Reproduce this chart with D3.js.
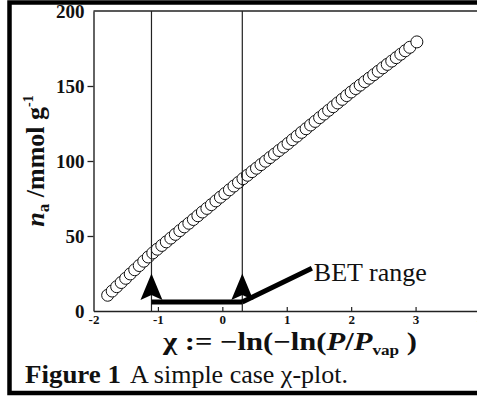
<!DOCTYPE html>
<html>
<head>
<meta charset="utf-8">
<script src="https://cdn.jsdelivr.net/npm/d3@7"></script>
<style>
  html, body { margin: 0; padding: 0; background: #fff; }
  svg { display: block; }
</style>
</head>
<body>
<svg id="chart" width="477" height="396"></svg>
<script>
// chi values and adsorbed amounts (mmol/g)
const chi = [-1.78, -1.71, -1.64, -1.57, -1.50, -1.43, -1.36, -1.29, -1.22, -1.15,
  -1.08, -1.01, -0.94, -0.87, -0.80, -0.73, -0.66, -0.59, -0.52, -0.45,
  -0.38, -0.31, -0.24, -0.17, -0.10, -0.03, 0.04, 0.11, 0.18, 0.25,
  0.32, 0.39, 0.46, 0.53, 0.60, 0.67, 0.74, 0.81, 0.88, 0.95,
  1.02, 1.09, 1.16, 1.23, 1.30, 1.37, 1.44, 1.51, 1.58, 1.65,
  1.72, 1.79, 1.86, 1.93, 2.00, 2.07, 2.14, 2.21, 2.28, 2.35,
  2.42, 2.49, 2.56, 2.63, 2.70, 2.77, 2.84, 2.91, 3.02];
const amount = [10.5, 13.3, 16.2, 19.0, 21.8, 24.7, 27.5, 30.3, 33.2, 36.0,
  38.7, 41.2, 43.7, 46.1, 48.6, 51.1, 53.6, 56.1, 58.5, 61.0,
  63.5, 66.0, 68.4, 70.9, 73.4, 75.9, 78.3, 80.8, 83.3, 85.7,
  88.2, 90.5, 92.9, 95.2, 97.6, 99.9, 102.3, 104.6, 107.0, 109.3,
  111.7, 114.2, 116.6, 119.1, 121.5, 124.0, 126.4, 128.9, 131.3, 133.8,
  136.2, 138.7, 141.1, 143.6, 146.0, 148.3, 150.6, 152.9, 155.2, 157.5,
  159.8, 162.1, 164.4, 166.6, 168.9, 171.2, 173.5, 175.8, 179.4];

const xTicks = [-2, -1, 0, 1, 2, 3, 4];
const yTicks = [0, 50, 100, 150, 200];

// BET range limits (chi) and annotation anchor values
const betRange = [-1.1, 0.31];
const arrowBase = 6;      // height of the horizontal bar
const arrowTip = 25;      // height of the arrow tips
const labelPoint = [1.39, 28.5];
const labelText = "BET range";

const SERIF = "'Liberation Serif', Tinos, 'Times New Roman', Times, 'DejaVu Serif', serif";

const svg = d3.select("#chart");

const x = d3.scaleLinear().domain([-2, 4]).range([93.5, 480]);
const y = d3.scaleLinear().domain([0, 200]).range([311, 11]);

// outer figure frame
svg.append("rect")
  .attr("x", 9.5).attr("y", 2.5)
  .attr("width", 490).attr("height", 390.5)
  .attr("fill", "none").attr("stroke", "#000").attr("stroke-width", 4.5);

// top frame line of plot
svg.append("line")
  .attr("x1", x(-2)).attr("x2", x(4))
  .attr("y1", y(200)).attr("y2", y(200))
  .attr("stroke", "#222").attr("stroke-width", 1.4);

// y axis
const yAxis = svg.append("g")
  .attr("transform", `translate(${x(-2)},0)`)
  .call(d3.axisLeft(y).tickValues(yTicks).tickSize(6).tickSizeOuter(0).tickPadding(3));
yAxis.attr("font-family", SERIF);
yAxis.select(".domain").attr("stroke", "#222").attr("stroke-width", 1.4);
yAxis.selectAll(".tick line").attr("stroke", "#222").attr("stroke-width", 1.3)
  .attr("display", d => (d === 0 || d === 200) ? "none" : null);
yAxis.selectAll(".tick text")
  .style("font-family", SERIF)
  .attr("font-size", 19).attr("font-weight", "bold").attr("fill", "#111")
  .attr("dy", "0.36em");

// x axis
const xAxis = svg.append("g")
  .attr("transform", `translate(0,${y(0)})`)
  .call(d3.axisBottom(x).tickValues(xTicks).tickSize(-4).tickSizeOuter(0).tickPadding(4)
    .tickFormat(d3.format("d")));
xAxis.attr("font-family", SERIF);
xAxis.select(".domain").attr("stroke", "#222").attr("stroke-width", 1.4);
xAxis.selectAll(".tick line").attr("stroke", "#222").attr("stroke-width", 1.2)
  .attr("display", d => d === -2 ? "none" : null);
xAxis.selectAll(".tick text")
  .style("font-family", SERIF)
  .attr("font-size", 13).attr("font-weight", "bold").attr("fill", "#111")
  .text(d => d < 0 ? "-" + Math.abs(d) : d);

// data points
svg.append("g").selectAll("circle")
  .data(chi.map((c, i) => [c, amount[i]]))
  .join("circle")
  .attr("cx", d => x(d[0])).attr("cy", d => y(d[1]))
  .attr("r", 6)
  .attr("fill", "#fff").attr("stroke", "#111").attr("stroke-width", 1);

// BET range boundaries
svg.append("g").selectAll("line")
  .data(betRange)
  .join("line")
  .attr("x1", d => x(d)).attr("x2", d => x(d))
  .attr("y1", y(0)).attr("y2", y(200))
  .attr("stroke", "#222").attr("stroke-width", 1.2);

// BET range annotation: bar with two upward arrows and a pointer to the label
const ann = svg.append("g");
ann.append("line")
  .attr("x1", x(betRange[0])).attr("x2", x(betRange[1]))
  .attr("y1", y(arrowBase)).attr("y2", y(arrowBase))
  .attr("stroke", "#000").attr("stroke-width", 5);
ann.append("line")
  .attr("x1", x(betRange[1])).attr("y1", y(arrowBase))
  .attr("x2", x(labelPoint[0])).attr("y2", y(labelPoint[1]))
  .attr("stroke", "#000").attr("stroke-width", 5);
const headH = y(arrowBase) - y(arrowTip);
ann.selectAll("path")
  .data(betRange)
  .join("path")
  .attr("transform", d => `translate(${x(d)},${y(arrowBase)})`)
  .attr("d", `M0,${-headH} L11,-2 L0,-7 L-11,-2 Z`)
  .attr("fill", "#000");
ann.append("text")
  .attr("x", x(labelPoint[0]) + 2).attr("y", 281)
  .style("font-family", SERIF).attr("fill", "#111")
  .attr("font-size", 26)
  .text(labelText);

// y axis title
const yt = svg.append("text")
  .attr("transform", "translate(44,161) rotate(-90)")
  .attr("text-anchor", "middle")
  .style("font-family", SERIF).attr("fill", "#111")
  .attr("font-size", 26).attr("font-weight", "bold");
yt.append("tspan").attr("font-style", "italic").text("n");
yt.append("tspan").attr("font-size", 17).attr("dy", 5).text("a");
yt.append("tspan").attr("dy", -5).text(" /mmol g");
yt.append("tspan").attr("font-size", 14).attr("dy", -11).text("-1");

// x axis title
const xt = svg.append("text")
  .attr("x", 163).attr("y", 350)
  .style("font-family", SERIF).attr("fill", "#111")
  .attr("font-size", 25).attr("font-weight", "bold")
  .attr("textLength", 254).attr("lengthAdjust", "spacingAndGlyphs");
xt.append("tspan").text("χ := −ln(−ln(");
xt.append("tspan").attr("font-style", "italic").text("P");
xt.append("tspan").text("/");
xt.append("tspan").attr("font-style", "italic").text("P");
xt.append("tspan").attr("font-size", 14).attr("dy", 5).text("vap");
xt.append("tspan").attr("dy", -5).text(" )");

// caption
const cap = svg.append("text")
  .attr("x", 25).attr("y", 383)
  .style("font-family", SERIF).attr("fill", "#111")
  .attr("font-size", 25);
cap.append("tspan").attr("font-weight", "bold").text("Figure 1")
  .attr("textLength", 96).attr("lengthAdjust", "spacingAndGlyphs");
cap.append("tspan").attr("x", 130).text("A simple case χ-plot.")
  .attr("textLength", 218).attr("lengthAdjust", "spacingAndGlyphs");
</script>
</body>
</html>
